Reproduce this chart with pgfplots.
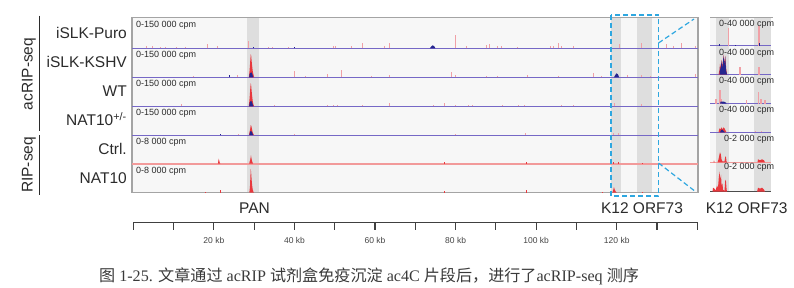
\documentclass[border=0pt]{standalone}
\usepackage{fontspec}
\setmainfont{Liberation Sans}
\newfontfamily\seriffont{Liberation Serif}
\newfontfamily\cjk{Noto Sans CJK SC}
\usepackage{pgfplots}
\pgfplotsset{compat=1.18}
\definecolor{panelbg}{HTML}{F7F7F7}
\definecolor{band}{HTML}{DEDEDE}
\definecolor{frame}{HTML}{A4A4A4}
\definecolor{base}{HTML}{7668C6}
\definecolor{redline}{HTML}{F29A9A}
\definecolor{spike}{HTML}{F0A0A6}
\definecolor{peak}{HTML}{E8383D}
\definecolor{navy}{HTML}{25258F}
\definecolor{dashblue}{HTML}{2EA7E0}
\definecolor{txt}{HTML}{2B2B2B}
\definecolor{kbc}{HTML}{444444}
\definecolor{capc}{HTML}{3A3A3A}
\newcommand{\lab}{\fontsize{15.5}{18}\selectfont}
\newcommand{\cpm}{\fontsize{9}{10}\selectfont}
\newcommand{\kbf}{\fontsize{8.5}{10}\selectfont}
\pgfplotsset{
  track/.style={scale only axis, width=566pt, height=29pt, xmin=-0.33, xmax=140.17,
    ymin=0, ymax=29, hide axis, clip=false, anchor=south west},
  itrack/.style={scale only axis, width=61pt, height=29pt, xmin=0, xmax=61,
    ymin=0, ymax=29, hide axis, clip=false, anchor=south west},
  spk/.style={ycomb, draw=spike, line width=1pt, mark=none},
  rspk/.style={ycomb, draw=peak, line width=1pt, mark=none},
  bspk/.style={ycomb, draw=navy, line width=1pt, mark=none},
  rarea/.style={fill=peak, draw=none, mark=none},
  barea/.style={fill=navy, draw=none, mark=none},
  pline/.style={draw=base, line width=1pt, mark=none},
  rline/.style={draw=redline, line width=2.2pt, mark=none},
}
\begin{document}
\begin{tikzpicture}[x=1pt,y=1pt]
\useasboundingbox (0,0) rectangle (794,287);

% ---------- main panel frame ----------
\begin{axis}[scale only axis, width=566pt, height=175.4pt, at={(132pt,94.3pt)}, anchor=south west,
  xmin=-0.33, xmax=140.17, ymin=0, ymax=1, axis on top,
  axis background/.style={fill=panelbg}, axis line style={draw=frame, line width=1.3pt},
  xtick=\empty, ytick=\empty]
  \addplot[draw=none, fill=band] coordinates {(28.15,0) (28.15,1) (31.28,1) (31.28,0)} -- cycle;
  \addplot[draw=none, fill=band] coordinates {(118.6,0) (118.6,1) (121.0,1) (121.0,0)} -- cycle;
  \addplot[draw=none, fill=band] coordinates {(124.96,0) (124.96,1) (128.68,1) (128.68,0)} -- cycle;
\end{axis}

% ---------- track 1: iSLK-Puro ----------
\begin{axis}[track, at={(132pt,238.7pt)}]
  \addplot[pline] coordinates {(-0.33,0) (140.17,0)};
  \addplot[spk] coordinates {(3.15,2)(4.82,2)(6.63,1.5)(7.87,1.5)(10.77,1.5)(12.83,1.5)(18.37,4)(20.85,2)(28.55,7)(33.44,1.5)(34.43,1.5)(38.40,1.5)(49.57,2)(50.07,2)(54.04,2)(56.94,5)(62.23,2)(63.47,5)(80.03,13)(82.76,2)(87.55,3)(88.30,4.5)(90.45,2)(91.45,2)(95.25,1)(103.43,2)(104.18,2)(105.42,5)(106.34,2)(109.15,2)(120.56,4)(126.20,5)(132.23,4)(134.04,2)(135.95,5)(139.43,2)};
  \addplot[bspk] coordinates {(29.71,1.5)(39.89,1.5)};
  \addplot[barea] coordinates {(73.6,0)(73.95,1.8)(74.3,3)(74.7,2)(75.0,0)} \closedcycle;
\end{axis}

% ---------- track 2: iSLK-KSHV ----------
\begin{axis}[track, at={(132pt,209.7pt)}]
  \addplot[pline] coordinates {(-0.33,0) (140.17,0)};
  \addplot[spk] coordinates {(14.82,1.5)(25.92,2.5)(39.89,6.3)(42.62,1)(48.26,3)(51.56,7)(59.18,1)(63.47,2)(78.86,5)(79.85,2)(87.72,1)(90.45,1)(97.73,2)(105.42,1.5)(114.11,4)(116.27,1.5)(122.72,2)(126.20,2)(128.26,1)(139.60,3)};
  \addplot[bspk] coordinates {(23.99,2)};
  \addplot[barea] coordinates {(119.3,0)(119.6,2)(119.9,4)(120.3,3)(120.6,0)} \closedcycle;
  \addplot[rarea] coordinates {(28.65,0)(28.8,4)(28.95,12)(29.05,18)(29.15,23)(29.25,22)(29.35,17)(29.5,11)(29.65,6)(29.8,3)(30.0,0)} \closedcycle;
  \addplot[barea] coordinates {(28.75,0)(28.85,3)(29.0,4.5)(29.1,4)(29.25,5)(29.4,4.5)(29.55,3)(29.7,1)(29.8,0)} \closedcycle;
\end{axis}

% ---------- track 3: WT ----------
\begin{axis}[track, at={(132pt,180.7pt)}]
  \addplot[pline] coordinates {(-0.33,0) (140.17,0)};
  \addplot[spk] coordinates {(12.01,2)(34.93,1)(48.08,1)(49.57,1)(50.56,1)(56.94,1)(63.47,3)(74.39,1)(77.12,3)(79.85,1.5)(83.08,1)(84.25,1.5)(91.69,1.5)(95.49,1)(96.98,1)(106.34,1)(109.15,1)(119.40,3)(126.20,2)};
  \addplot[rarea] coordinates {(28.65,0)(28.8,5)(28.95,13)(29.05,19)(29.15,23)(29.25,21)(29.35,16)(29.5,10)(29.65,5)(29.8,2)(30.0,0)} \closedcycle;
  \addplot[barea] coordinates {(28.75,0)(28.85,3)(29.0,5)(29.1,4.5)(29.25,5.5)(29.4,4.5)(29.55,3)(29.7,1)(29.8,0)} \closedcycle;
\end{axis}

% ---------- track 4: NAT10+/- ----------
\begin{axis}[track, at={(132pt,152pt)}]
  \addplot[pline] coordinates {(-0.33,0) (140.17,0)};
  \addplot[spk] coordinates {(25.99,1)(39.89,1)(79.85,1)(97.23,2)(119.08,2)(120.32,2)};
  \addplot[bspk] coordinates {(21.52,1.5)};
  \addplot[rarea] coordinates {(28.7,0)(28.9,4)(29.05,7)(29.15,10)(29.3,9)(29.45,6)(29.6,3)(29.8,1)(29.95,0)} \closedcycle;
  \addplot[barea] coordinates {(28.8,0)(28.95,3)(29.15,4)(29.35,3.5)(29.55,2)(29.7,0)} \closedcycle;
\end{axis}

% ---------- track 5: Ctrl. ----------
\begin{axis}[track, at={(132pt,123.3pt)}]
  \addplot[rline] coordinates {(-0.33,0) (140.17,0)};
  \addplot[rspk] coordinates {(77.20,2)(97.65,1.5)(119.08,2)(120.32,2)(126.28,1)};
  \addplot[rarea] coordinates {(21.0,0)(21.2,5)(21.45,1)(21.6,0)} \closedcycle;
  \addplot[rarea] coordinates {(28.75,0)(28.9,2.5)(29.0,3.5)(29.1,6)(29.2,8.5)(29.3,6)(29.45,3)(29.6,1)(29.75,0)} \closedcycle;
\end{axis}

% ---------- track 6: NAT10 ----------
\begin{axis}[track, at={(132pt,94.3pt)}]
  \addplot[rspk] coordinates {(17.80,1)(21.52,3)(77.12,1.5)(97.48,2.5)(116.58,1)(126.28,1)};
  \addplot[rarea] coordinates {(118.9,0)(119.15,3)(119.3,5.7)(119.5,3)(119.75,1)(120.0,0)} \closedcycle;
  \addplot[rarea] coordinates {(28.8,0)(28.95,6)(29.05,15)(29.15,23.7)(29.25,20)(29.35,14)(29.5,7)(29.65,3)(29.8,1)(29.95,0)} \closedcycle;
\end{axis}

% ---------- inset frame ----------
\begin{axis}[scale only axis, width=61pt, height=174.4pt, at={(710pt,95.3pt)}, anchor=south west,
  xmin=0, xmax=61, ymin=0, ymax=1, hide axis, clip=false]
  \addplot[draw=none, fill=panelbg] coordinates {(0,0) (0,1) (61,1) (61,0)} -- cycle;
  \addplot[draw=none, fill=band] coordinates {(5.5,0) (5.5,1) (19,1) (19,0)} -- cycle;
  \addplot[draw=none, fill=band] coordinates {(44,0) (44,1) (61,1) (61,0)} -- cycle;
  \addplot[draw=frame, line width=1.3pt, mark=none] coordinates {(0,1) (62.5,1)};
  \addplot[draw=black!70, line width=1pt, mark=none] coordinates {(0,0) (61,0)};
\end{axis}

% inset tracks
\begin{axis}[itrack, at={(710pt,241.3pt)}]
  \addplot[pline] coordinates {(0,0) (61,0)};
  \addplot[spk, line width=1.4pt] coordinates {(18.3,18)(49,20)};
  \addplot[bspk] coordinates {(9,1.5)(25,1)(49,3)};
\end{axis}
\begin{axis}[itrack, at={(710pt,212.3pt)}]
  \addplot[pline] coordinates {(0,0) (61,0)};
  \addplot[spk, line width=1.4pt] coordinates {(30,8)(49,8)};
  \addplot[rarea] coordinates {(8.5,0)(9.5,5)(10,11)(11,7)(11.7,15)(12.5,8)(13.5,20)(14.3,12)(15.2,19)(16.2,6)(17,0)} \closedcycle;
  \addplot[barea] coordinates {(9.5,0)(10,8)(10.7,4)(11.5,14)(12.3,6)(13.5,19)(14.3,10)(15.2,18)(16,5)(17,0)} \closedcycle;
\end{axis}
\begin{axis}[itrack, at={(710pt,183.3pt)}]
  \addplot[pline] coordinates {(0,0) (61,0)};
  \addplot[spk, line width=1.4pt] coordinates {(6,5)(10,14)(11.5,5)(36.7,4)(48.3,12)(51,5)(55,4)};
  \addplot[barea] coordinates {(10,0)(10.5,2)(14,2)(16,1)(16.5,0)} \closedcycle;
\end{axis}
\begin{axis}[itrack, at={(710pt,154.7pt)}]
  \addplot[pline] coordinates {(0,0) (61,0)};
  \addplot[spk] coordinates {(45,1)(51.7,1)};
  \addplot[rarea] coordinates {(8.5,0)(9.5,4)(10.5,3)(11.5,5)(12.5,3)(13.5,5)(14.5,4)(15.5,2)(16.5,0)} \closedcycle;
  \addplot[barea] coordinates {(10,0)(11,2)(12,3)(13,2)(14,1)(15,0)} \closedcycle;
\end{axis}
\begin{axis}[itrack, at={(710pt,124.7pt)}]
  \addplot[draw=redline, line width=1.2pt, mark=none] coordinates {(0,0) (61,0)};
  \addplot[rarea] coordinates {(3.5,0)(4,2)(4.5,0)} \closedcycle;
  \addplot[rarea] coordinates {(7.5,0)(8.5,3)(9.5,8)(10,10)(10.8,8)(11.5,3)(12.5,1)(14.5,1)(15.3,6)(16,5)(16.5,1)(17,0)} \closedcycle;
  \addplot[rarea] coordinates {(47.5,0)(48,3)(50,2)(52,3)(54,2)(55,0)} \closedcycle;
\end{axis}
\begin{axis}[itrack, at={(710pt,95.3pt)}]
  \addplot[rarea] coordinates {(2.5,0)(3,4)(4.5,3)(5.5,1)(7,6)(8,4)(8.8,14)(9.5,20)(10.2,12)(11,17)(11.6,6)(12.5,8)(13,2)(14.5,1)(15.3,12)(16,10)(16.6,2)(17.3,0)} \closedcycle;
  \addplot[rarea] coordinates {(47,0)(48,4)(50,3)(52,4)(54,2)(55,0)} \closedcycle;
\end{axis}

% ---------- scale bar ----------
\begin{axis}[scale only axis, width=564pt, height=10pt, at={(133.3pt,64.7pt)}, anchor=south west,
  xmin=0, xmax=140, ymin=0, ymax=1, axis x line=bottom, axis y line=none,
  axis line style={-, draw=black!75, line width=1.1pt},
  xtick={0,10,...,140}, xticklabels=\empty, major tick length=7.4pt, tick align=outside,
  tick style={draw=black!75, line width=1.1pt}, clip=false]
  \addplot[draw=none] coordinates {(0,0)};
  \pgfplotsinvokeforeach{20,40,60,80,100,120}{\node[font=\kbf, text=kbc, inner sep=0pt] at (axis cs:#1,0) [yshift=-17.7pt] {#1 kb};}
\end{axis}

% ---------- texts ----------
\begin{scope}[every node/.style={text=txt, inner sep=0pt}]
\node[font=\lab, anchor=east] at (127,254) {iSLK-Puro};
\node[font=\lab, anchor=east] at (127,225) {iSLK-KSHV};
\node[font=\lab, anchor=east] at (127,196) {WT};
\node[font=\lab, anchor=east] at (127,168) {NAT10\textsuperscript{+/-}};
\node[font=\lab, anchor=east] at (127,138) {Ctrl.};
\node[font=\lab, anchor=east] at (127,109) {NAT10};
\node[font=\lab, rotate=90] at (29,213) {acRIP-seq};
\node[font=\lab, rotate=90] at (29,122) {RIP-seq};
\node[font=\lab] at (254.5,78.7) {PAN};
\node[font=\lab] at (642,78.7) {K12 ORF73};
\node[font=\lab] at (746.7,78.7) {K12 ORF73};
\foreach \y in {262,232,202.7,173.7} {\node[font=\cpm, anchor=west] at (136,\y) {0-150 000 cpm};}
\foreach \y in {144.7,116} {\node[font=\cpm, anchor=west] at (136,\y) {0-8 000 cpm};}
\foreach \y in {263,233.7,205.3,177} {\node[font=\cpm, anchor=east] at (774.3,\y) {0-40 000 cpm};}
\foreach \y in {147.7,119.3} {\node[font=\cpm, anchor=east] at (774.3,\y) {0-2 000 cpm};}
\end{scope}
\draw[txt, line width=1.2pt] (39.3,271.3) -- (39.3,156.3);
\draw[txt, line width=1.2pt] (39.3,152) -- (39.3,92);

% ---------- zoom box ----------
\draw[dashblue, line width=1.2pt, dash pattern=on 5pt off 3pt] (611,272) rectangle (658.5,91);
\draw[dashblue, line width=1.2pt, dash pattern=on 5pt off 3pt] (658.5,244) -- (694,268);
\draw[dashblue, line width=1.2pt, dash pattern=on 5pt off 3pt] (658.5,124) -- (696,95);

% ---------- caption ----------
\node[anchor=base west, inner sep=0pt, text=capc, font=\seriffont\fontsize{16.1}{18}\selectfont] at (99,5.5)
  {{\cjk 图} 1-25. {\cjk 文章通过} acRIP {\cjk 试剂盒免疫沉淀} ac4C {\cjk 片段后，进行了}acRIP-seq {\cjk 测序}};
\end{tikzpicture}
\end{document}
